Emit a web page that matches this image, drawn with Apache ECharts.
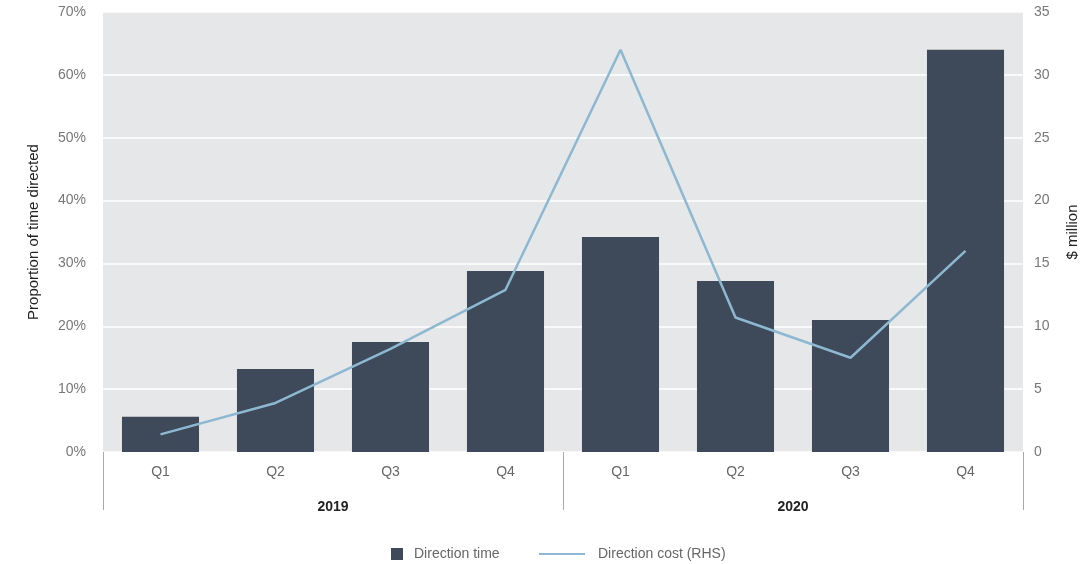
<!DOCTYPE html>
<html>
<head>
<meta charset="utf-8">
<script src="https://cdn.jsdelivr.net/npm/echarts@6/dist/echarts.min.js"></script>
<style>
  html, body { margin: 0; padding: 0; background: #fff; }
  #chart { width: 1081px; height: 564px; }
</style>
</head>
<body>
<div id="chart"></div>
<script>
// Quarterly direction data, 2019–2020
const quarters = ['Q1', 'Q2', 'Q3', 'Q4', 'Q1', 'Q2', 'Q3', 'Q4'];
const years = ['2019', '2020'];
const directionTime = [5.6, 13.2, 17.5, 28.8, 34.2, 27.2, 21.0, 64.0];   // % of time directed
const directionCost = [1.4, 3.9, 8.2, 12.9, 32.0, 10.7, 7.5, 16.0];      // $ million (RHS)

const font = 'Helvetica, "Liberation Sans", Arial, sans-serif';
const chart = echarts.init(document.getElementById('chart'));

chart.setOption({
  animation: false,
  textStyle: { fontFamily: font },
  grid: {
    left: 103, right: 58, top: 12, bottom: 112,
    outerBoundsMode: 'none',
    show: true, backgroundColor: '#e6e7e8', borderWidth: 0
  },
  legend: [
    {
      left: 391, top: 547, padding: 0, itemWidth: 12, itemHeight: 12,
      textStyle: { color: '#666', fontSize: 14, fontFamily: font, padding: [0, 0, 0, 6] },
      data: [{ name: 'Direction time', icon: 'rect' }]
    },
    {
      left: 538, top: 547, padding: 0, itemWidth: 46, itemHeight: 12,
      textStyle: { color: '#666', fontSize: 14, fontFamily: font, padding: [0, 0, 0, 8] },
      data: [{ name: 'Direction cost (RHS)', itemStyle: { opacity: 0 } }]
    }
  ],
  xAxis: [
    {
      type: 'category', data: quarters, position: 'bottom',
      axisLine: { show: false }, axisTick: { show: false },
      axisLabel: { color: '#666', fontSize: 14, margin: 13 }
    },
    {
      type: 'category', data: years, position: 'bottom',
      axisLine: { show: false },
      axisTick: { show: true, length: 58, lineStyle: { color: '#aaa', width: 1 } },
      axisLabel: { color: '#222', fontSize: 14, fontWeight: 'bold', margin: 48 }
    }
  ],
  yAxis: [
    {
      type: 'value', min: 0, max: 70, interval: 10,
      name: 'Proportion of time directed', nameLocation: 'middle', nameGap: 62,
      nameTextStyle: { color: '#222', fontSize: 15 },
      axisLine: { show: false }, axisTick: { show: false },
      axisLabel: { formatter: '{value}%', color: '#777', fontSize: 14, margin: 17 },
      splitLine: { lineStyle: { color: '#ffffff', width: 1.5 } }
    },
    {
      type: 'value', min: 0, max: 35, interval: 5, position: 'right',
      name: '$ million', nameLocation: 'middle', nameGap: 42, nameRotate: 90,
      nameTextStyle: { color: '#222', fontSize: 15 },
      axisLine: { show: false }, axisTick: { show: false },
      axisLabel: { color: '#777', fontSize: 14, margin: 11 },
      splitLine: { show: false }
    }
  ],
  series: [
    {
      name: 'Direction time', type: 'bar', data: directionTime,
      xAxisIndex: 0, yAxisIndex: 0, barCategoryGap: '33%',
      itemStyle: { color: '#3e4a59' }
    },
    {
      name: 'Direction cost (RHS)', type: 'line', data: directionCost,
      xAxisIndex: 0, yAxisIndex: 1, symbol: 'none',
      lineStyle: { color: '#8db8d2', width: 2.5 },
      itemStyle: { color: '#8db8d2' }
    }
  ]
});
</script>
</body>
</html>
